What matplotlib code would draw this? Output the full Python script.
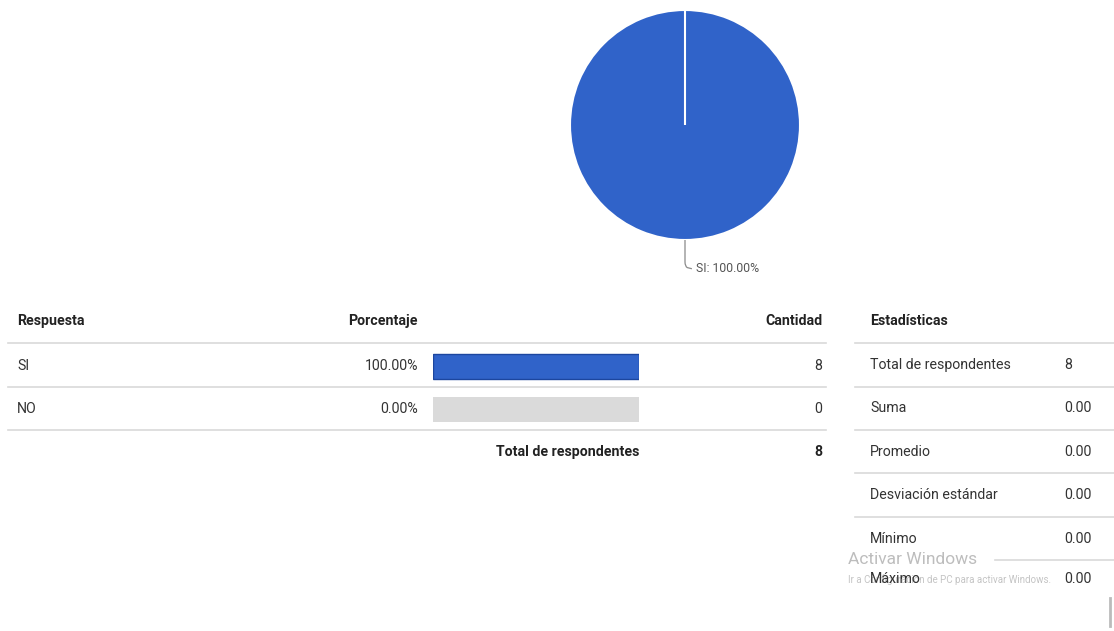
import matplotlib.pyplot as plt
from matplotlib.path import Path
from matplotlib.patches import PathPatch

plt.rcParams['font.family'] = ['Roboto', 'DejaVu Sans']

# Survey answers
respuestas = ['SI', 'NO']
cantidades = [8, 0]
total = sum(cantidades)
porcentajes = [100.0 * c / total for c in cantidades]

# Summary statistics
estadisticas = ['Total de respondentes', 'Suma', 'Promedio',
                'Desviación estándar', 'Mínimo', 'Máximo']
valores_est = ['8', '0.00', '0.00', '0.00', '0.00', '0.00']

BLUE = '#3063C9'
GRID = '#D9D9D9'
TXT = '#333333'

W, H = 1114, 631
fig = plt.figure(figsize=(W / 100, H / 100), dpi=100)

# base layer in pixel units
ax = fig.add_axes([0, 0, 1, 1])
ax.set_xlim(0, W)
ax.set_ylim(H, 0)
ax.axis('off')


def px_axes(left, top, width, height):
    return fig.add_axes([left / W, (H - top - height) / H, width / W, height / H])


# pie chart
pax = px_axes(570, 10, 230, 230)
pax.pie(cantidades, colors=[BLUE, '#DADADA'], startangle=90, counterclock=False,
        wedgeprops=dict(edgecolor='white', linewidth=1.5))
pax.set_xlim(-1, 1)
pax.set_ylim(-1, 1)
pax.axis('off')

# leader line for the label
verts = [(0, -1.0), (0, -1.19), (0, -1.23), (0.02, -1.24), (0.06, -1.25)]
codes = [Path.MOVETO, Path.LINETO, Path.CURVE3, Path.CURVE3, Path.LINETO]
pax.add_patch(PathPatch(Path(verts, codes), fill=False, edgecolor='#8A8A8A',
                        linewidth=0.9, clip_on=False))
pax.text(0.1, -1.25, f'{respuestas[0]}: {porcentajes[0]:.2f}%', fontsize=8.8,
         color='#555555', va='center', ha='left', clip_on=False)

# main table
fs = 10.2
row_y = [366, 409]
ax.text(17, 321, 'Respuesta', fontsize=fs, fontweight='bold', color='#222222', va='center')
ax.text(418, 321, 'Porcentaje', fontsize=fs, fontweight='bold', color='#222222', va='center', ha='right')
ax.text(822, 321, 'Cantidad', fontsize=fs, fontweight='bold', color='#222222', va='center', ha='right')
for yl in [343, 387, 430]:
    ax.plot([8, 826], [yl, yl], color=GRID, linewidth=1.2)
for r, p, c, y in zip(respuestas, porcentajes, cantidades, row_y):
    ax.text(17, y, r, fontsize=fs, color=TXT, va='center')
    ax.text(418, y, f'{p:.2f}%', fontsize=fs, color=TXT, va='center', ha='right')
    ax.text(822, y, str(c), fontsize=fs, color=TXT, va='center', ha='right')
ax.text(639, 452, 'Total de respondentes', fontsize=fs, fontweight='bold',
        color='#222222', va='center', ha='right')
ax.text(822, 452, str(total), fontsize=fs, fontweight='bold', color='#222222',
        va='center', ha='right')

# percentage bars: grey track, blue fill
bax = px_axes(433, 343, 206, 87)
bax.set_xlim(0, 100)
bax.set_ylim(430, 343)
bax.axis('off')
bax.barh(row_y, [100] * len(row_y), height=25, color='#DADADA', linewidth=0)
for p, y in zip(porcentajes, row_y):
    if p > 0:
        bax.barh(y, p, height=25, color=BLUE, edgecolor='#1C469F', linewidth=1)

# statistics table
ax.text(870, 321, 'Estadísticas', fontsize=fs, fontweight='bold', color='#222222', va='center')
for yl in [343, 387, 430, 473, 517]:
    ax.plot([855, W], [yl, yl], color=GRID, linewidth=1.2)
ax.plot([995, W], [560, 560], color=GRID, linewidth=1.2)
stat_y = [365, 408, 452, 495, 539, 579]
for name, val, y in zip(estadisticas, valores_est, stat_y):
    ax.text(870, y, name, fontsize=fs, color=TXT, va='center', zorder=3)
    ax.text(1064, y, val, fontsize=fs, color=TXT, va='center', zorder=3)

# activation watermark
ax.text(848, 560, 'Activar Windows', fontsize=12.5, color='#BDBDBD', va='center', zorder=2)
ax.text(848, 580, 'Ir a Configuración de PC para activar Windows.', fontsize=7,
        color='#C4C4C4', va='center', zorder=2)
ax.plot([1110, 1110], [598, 626], color='#BBBBBB', linewidth=2)

fig.savefig('out.png', dpi=100)
